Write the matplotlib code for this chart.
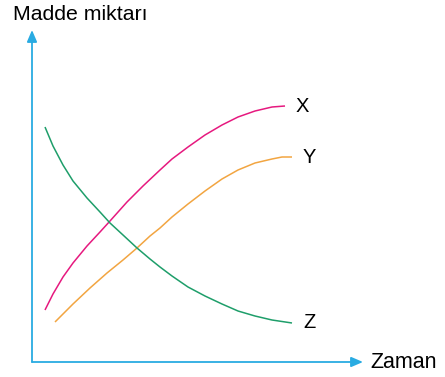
import matplotlib
matplotlib.use("Agg")
import matplotlib.pyplot as plt

plt.rcParams['font.family'] = ['Liberation Sans', 'DejaVu Sans']

# values (time, amount)
x_t = [1.3, 2.1, 3.1, 4.1, 5.5, 6.8, 7.8, 9.5, 11.1, 12.8, 14.0, 15.6, 17.3, 19.0, 20.6, 22.3, 24.0, 25.3]
x_m = [5.2, 6.8, 8.5, 9.9, 11.6, 13.0, 14.1, 16.0, 17.6, 19.2, 20.3, 21.5, 22.7, 23.7, 24.5, 25.1, 25.5, 25.6]
y_t = [2.3, 4.1, 5.8, 7.5, 9.1, 10.5, 11.8, 12.8, 14.0, 15.6, 17.3, 19.0, 20.6, 22.3, 24.0, 25.0, 26.0]
y_m = [4.0, 5.8, 7.4, 8.9, 10.2, 11.4, 12.6, 13.4, 14.5, 15.8, 17.1, 18.3, 19.2, 19.9, 20.3, 20.5, 20.5]
z_t = [1.3, 2.1, 3.1, 4.1, 5.5, 6.8, 7.8, 9.1, 10.5, 11.8, 12.8, 14.0, 15.6, 17.3, 19.0, 20.6, 22.3, 24.0, 26.0]
z_m = [23.5, 21.6, 19.7, 18.1, 16.4, 15.0, 13.9, 12.7, 11.4, 10.3, 9.5, 8.6, 7.5, 6.6, 5.8, 5.1, 4.6, 4.2, 3.9]
names = ["X", "Y", "Z"]
colors = ["#E6197F", "#F2A541", "#1E9E6A"]
axis_col = "#29ABE2"

W, H = 445, 377
fig = plt.figure(figsize=(W / 100, H / 100), dpi=100)
ax = fig.add_axes([32 / W, 15 / H, 331 / W, 332 / H])
ax.set_xlim(0, 33.1)
ax.set_ylim(0, 33.2)
ax.axis("off")

series = [(x_t, x_m), (y_t, y_m), (z_t, z_m)]
for (t, m), name, c in zip(series, names, colors):
    ax.plot(t, m, color=c, lw=1.1, solid_capstyle="butt", solid_joinstyle="round")
    ax.text(t[-1] + 1.1, m[-1], name, fontsize=14.5, va="center", ha="left")

arrow = dict(arrowstyle="-|>,head_length=0.7,head_width=0.3", color=axis_col, lw=1.3,
             shrinkA=0, shrinkB=0)
ax.annotate("", xy=(1, 0), xytext=(0, 0), xycoords="axes fraction", arrowprops=arrow)
ax.annotate("", xy=(0, 1), xytext=(0, 0), xycoords="axes fraction", arrowprops=arrow)

fig.text(13 / W, 1 - 14 / H, "Madde miktarı", fontsize=15.3, va="center", ha="left")
fig.text(370 / W, 1 - 362 / H, "Zaman", fontsize=15.5, va="center", ha="left")

fig.savefig("out.png", dpi=100)
